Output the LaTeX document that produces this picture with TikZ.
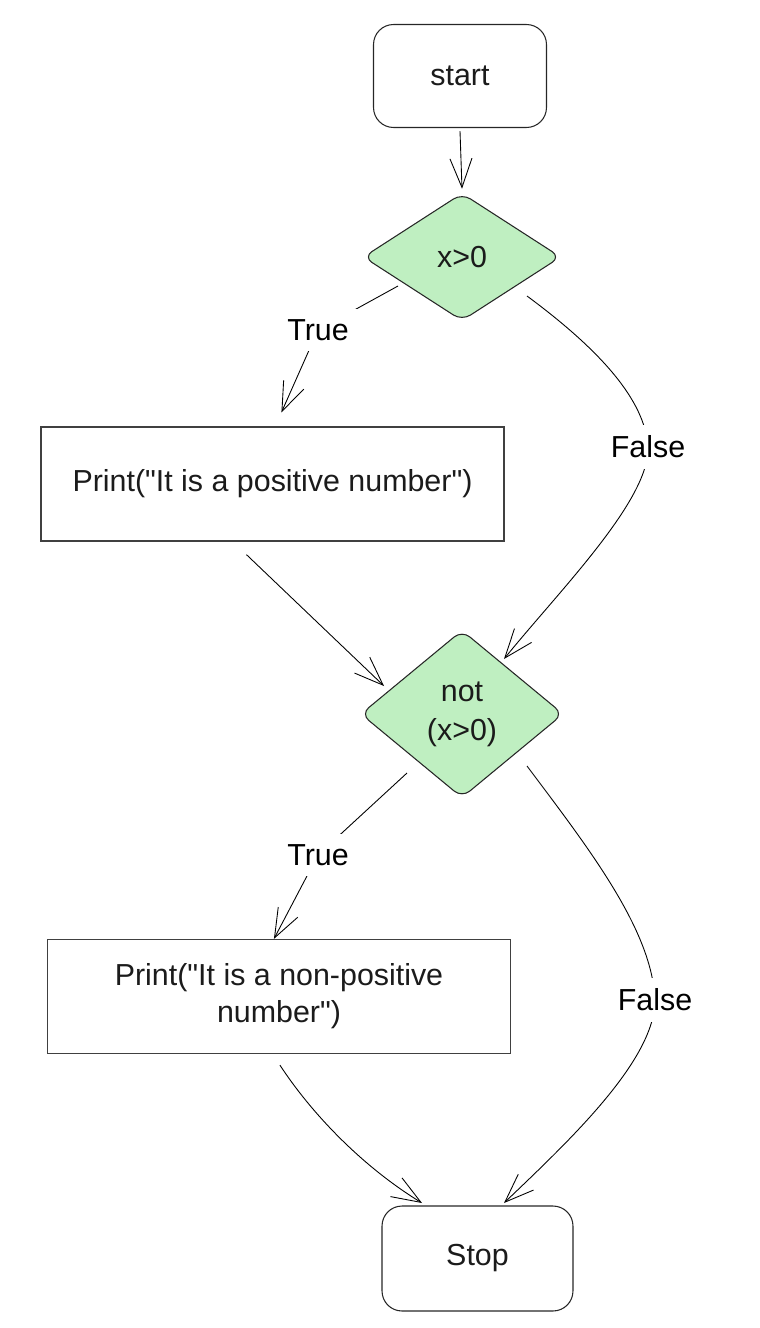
\documentclass[tikz,border=0pt]{standalone}
\usepackage{fontspec}
\setmainfont{Liberation Sans}
\usetikzlibrary{arrows.meta,shapes.geometric}
\definecolor{dgreen}{RGB}{191,239,193}
\definecolor{ink}{RGB}{27,27,27}
\begin{document}
\begin{tikzpicture}[x=0.02cm,y=-0.02cm,
  font=\fontsize{17.3}{21}\selectfont, text=ink,
  term/.style={draw=black!85, rounded corners=0.4cm, minimum width=3.46cm, minimum height=2.06cm, line width=0.6pt},
  proc/.style={draw=black!75, minimum width=9.26cm, minimum height=2.28cm, align=center, line width=0.7pt},
  dec/.style={diamond, draw=black!85, fill=dgreen, rounded corners=0.2cm, inner sep=0pt, align=center, line width=0.6pt},
  arr/.style={-{Straight Barb[length=0.58cm,width=0.44cm]}, line width=0.5pt, black},
  lbl/.style={fill=white, inner sep=6pt}]
\useasboundingbox (0,0) rectangle (760,1328);

\node[term] (start) at (460,76) {start};
\node[dec, minimum width=3.95cm, minimum height=2.55cm] (d1) at (462,257) {x>0};
\node[proc] (p1) at (272.5,484) {Print(\textquotedbl It is a positive number\textquotedbl)};
\node[dec, minimum width=4.05cm, minimum height=3.35cm] (d2) at (462,714) {not\\[1pt](x>0)};
\node[proc] (p2) at (279,996.5) {Print(\textquotedbl It is a non-positive\\number\textquotedbl)};
\node[term, minimum width=3.82cm, minimum height=2.1cm] (stop) at (477.5,1258.5) {Stop};

\draw[arr] ([shift={(0,3)}]start.south) -- ([shift={(0,-4)}]d1.north);

\draw[arr] ([shift={(-64,29)}]d1.center) -- ([shift={(-144,73)}]d1.center) node[lbl]{True}
  -- ([shift={(241,-14)}]p1.north west);

\draw[arr] ([shift={(65,39)}]d1.center) .. controls +(73,54) and +(-3,-47) ..
  ([shift={(186,190)}]d1.center) node[lbl]{False}
  .. controls +(2,53) and +(55,-68) .. ([shift={(42,-55)}]d2.center);

\draw[arr] ([shift={(206,13)}]p1.south west) -- ([shift={(-78,-28)}]d2.center);

\draw[arr] ([shift={(-55,59)}]d2.center) -- ([shift={(-144,141)}]d2.center) node[lbl]{True}
  -- ([shift={(227,0)}]p2.north west);

\draw[arr] ([shift={(65,52)}]d2.center) .. controls +(63,84) and +(-3,-70) ..
  ([shift={(193,286)}]d2.center) node[lbl]{False}
  .. controls +(0,60) and +(66,-63) .. ([shift={(26.5,-55.5)}]stop.center);

\draw[arr] ([shift={(233,11)}]p2.south west) .. controls +(30,46) and +(-62,-38) ..
  ([shift={(-55.5,-55.5)}]stop.center);
\end{tikzpicture}
\end{document}
